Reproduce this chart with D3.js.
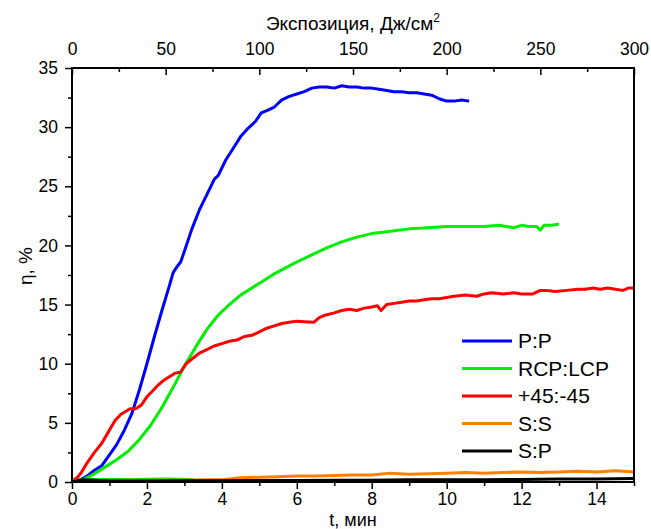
<!DOCTYPE html>
<html lang="ru">
<head>
    <meta charset="UTF-8">
    <title>Дифракционная эффективность</title>
    <script src="https://d3js.org/d3.v7.min.js"></script>
    <style>
        body { margin: 0; background: #fff; }
        text { font-family: "Liberation Sans", Arial, sans-serif; fill: #000; }
    </style>
</head>
<body>
<script>
    // Data: [t, min ; eta, %]
    const ppData = [
        [0, 0.1], [0.2, 0.15], [0.4, 0.5], [0.6, 1.0], [0.8, 1.4], [1.0, 2.3], [1.2, 3.2], [1.4, 4.4],
        [1.6, 5.8], [1.8, 7.8], [2.0, 10.0], [2.2, 12.3], [2.4, 14.5], [2.6, 16.6], [2.7, 17.7], [2.8, 18.2],
        [2.9, 18.6], [3.0, 19.5], [3.2, 21.4], [3.4, 23.0], [3.6, 24.3], [3.8, 25.6], [3.9, 25.9], [4.1, 27.2],
        [4.3, 28.2], [4.5, 29.2], [4.7, 29.9], [4.9, 30.5], [5.05, 31.2], [5.2, 31.4], [5.4, 31.7], [5.6, 32.3],
        [5.8, 32.6], [6.0, 32.8], [6.2, 33.0], [6.4, 33.3], [6.6, 33.4], [6.8, 33.4], [7.0, 33.3], [7.2, 33.5],
        [7.4, 33.4], [7.6, 33.4], [7.8, 33.3], [8.0, 33.3], [8.2, 33.2], [8.4, 33.1], [8.6, 33.0], [8.8, 33.0],
        [9.0, 32.9], [9.2, 32.9], [9.4, 32.8], [9.6, 32.7], [9.8, 32.4], [10.0, 32.2], [10.2, 32.2], [10.4, 32.3],
        [10.6, 32.2]
    ];
    const rcpData = [
        [0, 0.2], [0.3, 0.2], [0.6, 0.7], [0.9, 1.3], [1.2, 1.9], [1.5, 2.6], [1.8, 3.6], [2.1, 4.8],
        [2.4, 6.3], [2.7, 8.0], [3.0, 9.8], [3.3, 11.4], [3.6, 12.9], [3.9, 14.1], [4.2, 15.0], [4.5, 15.8],
        [4.8, 16.4], [5.1, 17.0], [5.4, 17.6], [5.7, 18.1], [6.0, 18.6], [6.4, 19.2], [6.8, 19.8], [7.2, 20.3],
        [7.6, 20.7], [8.0, 21.0], [8.5, 21.2], [9.0, 21.4], [9.5, 21.5], [10.0, 21.6], [10.5, 21.6], [11.0, 21.6],
        [11.4, 21.7], [11.6, 21.6], [11.8, 21.5], [12.0, 21.7], [12.2, 21.6], [12.4, 21.6], [12.5, 21.3], [12.6, 21.7],
        [12.8, 21.7], [13.0, 21.8]
    ];
    const diagData = [
        [0, 0.1], [0.12, 0.3], [0.25, 0.8], [0.4, 1.6], [0.6, 2.5], [0.8, 3.3], [1.0, 4.4], [1.15, 5.2],
        [1.3, 5.7], [1.45, 6.0], [1.55, 6.2], [1.7, 6.2], [1.85, 6.5], [2.0, 7.2], [2.15, 7.7], [2.3, 8.2],
        [2.45, 8.6], [2.6, 8.9], [2.75, 9.2], [2.9, 9.3], [3.05, 10.0], [3.2, 10.4], [3.4, 10.9], [3.6, 11.2],
        [3.8, 11.5], [4.0, 11.7], [4.2, 11.9], [4.4, 12.0], [4.6, 12.3], [4.8, 12.4], [5.0, 12.7], [5.2, 13.0],
        [5.4, 13.2], [5.6, 13.4], [5.8, 13.5], [6.0, 13.6], [6.2, 13.55], [6.45, 13.5], [6.6, 13.9], [6.75, 14.1],
        [7.0, 14.3], [7.2, 14.5], [7.4, 14.6], [7.6, 14.5], [7.8, 14.7], [8.0, 14.8], [8.15, 14.9], [8.25, 14.5],
        [8.4, 15.0], [8.6, 15.1], [8.8, 15.2], [9.0, 15.3], [9.2, 15.3], [9.4, 15.4], [9.6, 15.5], [9.8, 15.5],
        [10.0, 15.6], [10.2, 15.7], [10.5, 15.8], [10.8, 15.7], [11.0, 15.9], [11.2, 16.0], [11.5, 15.9], [11.8, 16.0],
        [12.0, 15.9], [12.3, 15.9], [12.5, 16.2], [12.65, 16.2], [12.9, 16.1], [13.2, 16.2], [13.5, 16.3], [13.7, 16.3],
        [13.9, 16.4], [14.1, 16.3], [14.3, 16.4], [14.5, 16.3], [14.7, 16.2], [14.85, 16.4], [15.0, 16.4]
    ];
    const ssData = [
        [0, 0.15], [0.5, 0.1], [1, 0.12], [1.5, 0.15], [2, 0.12], [2.5, 0.15], [3, 0.15], [3.5, 0.18],
        [4, 0.2], [4.5, 0.35], [5, 0.4], [5.5, 0.45], [6, 0.5], [6.5, 0.5], [7, 0.55], [7.5, 0.6],
        [8, 0.6], [8.5, 0.75], [9, 0.65], [9.5, 0.7], [10, 0.75], [10.5, 0.8], [11, 0.75], [11.5, 0.8],
        [12, 0.85], [12.5, 0.8], [13, 0.85], [13.5, 0.9], [14, 0.85], [14.5, 0.95], [15, 0.85]
    ];
    const spData = [
        [0, 0.05], [0.3, 0.2], [0.6, 0.15], [1, 0.08], [2, 0.08], [3, 0.1], [4, 0.1], [5, 0.12],
        [6, 0.12], [7, 0.15], [8, 0.15], [9, 0.18], [10, 0.2], [11, 0.2], [12, 0.22], [13, 0.25],
        [14, 0.25], [15, 0.3]
    ];
    // stray green baseline trace near zero
    const rcpBase = [
        [0.4, 0.25], [1.5, 0.25], [2.5, 0.3], [3.2, 0.25], [3.4, 0.05], [4.5, 0.05], [5.7, 0.02], [6.2, 0.02]
    ];

    const seriesNames = ['P:P', 'RCP:LCP', '+45:-45', 'S:S', 'S:P'];
    const seriesColors = ['#0000ff', '#00ee00', '#ff0000', '#ff8000', '#000000'];
    const seriesData = [ppData, rcpData, diagData, ssData, spData];

    const tTicks = [0, 2, 4, 6, 8, 10, 12, 14];
    const tMinor = [1, 3, 5, 7, 9, 11, 13, 15];
    const expTicks = [0, 50, 100, 150, 200, 250, 300];
    const expMinor = [25, 75, 125, 175, 225, 275];
    const etaTicks = [0, 5, 10, 15, 20, 25, 30, 35];
    const etaMinor = [2.5, 7.5, 12.5, 17.5, 22.5, 27.5, 32.5];

    const W = 651, H = 529;
    const m = { top: 68, right: 17, bottom: 47, left: 72 };
    const w = W - m.left - m.right;
    const h = H - m.top - m.bottom;

    const svg = d3.select('body').append('svg')
        .attr('width', W).attr('height', H);
    const g = svg.append('g')
        .attr('transform', 'translate(' + m.left + ',' + m.top + ')');

    const x = d3.scaleLinear().domain([0, 15]).range([0, w]);
    const xTop = d3.scaleLinear().domain([0, 300]).range([0, w]);
    const y = d3.scaleLinear().domain([0, 35]).range([h, 0]);

    const fs = '17.5px';

    // clip for curves
    svg.append('defs').append('clipPath').attr('id', 'clip')
        .append('rect').attr('x', 0).attr('y', -2).attr('width', w).attr('height', h + 4);

    // curves
    const line = d3.line().x(d => x(d[0])).y(d => y(d[1]));
    const curves = g.append('g').attr('clip-path', 'url(#clip)');
    curves.append('path').datum(rcpBase)
        .attr('d', line).attr('fill', 'none')
        .attr('stroke', '#00ee00').attr('stroke-width', 2);
    seriesData.forEach((s, i) => {
        curves.append('path').datum(s)
            .attr('d', line)
            .attr('fill', 'none')
            .attr('stroke', seriesColors[i])
            .attr('stroke-width', 3)
            .attr('stroke-linejoin', 'round');
    });

    // axes
    function styleAxis(sel) {
        sel.select('.domain').remove();
        sel.selectAll('line').attr('stroke', '#000').attr('stroke-width', 1.5);
        sel.selectAll('text').style('font-size', fs).style('font-family', '"Liberation Sans", Arial, sans-serif');
    }

    // bottom
    g.append('g').attr('transform', 'translate(0,' + h + ')')
        .call(d3.axisBottom(x).tickValues(tTicks).tickSize(7).tickPadding(4)).call(styleAxis);
    g.append('g').attr('transform', 'translate(0,' + h + ')')
        .call(d3.axisBottom(x).tickValues(tMinor).tickSize(4).tickFormat('')).call(styleAxis);
    // top (ticks inward)
    g.append('g')
        .call(d3.axisTop(xTop).tickValues(expTicks).tickSize(-7).tickPadding(13)).call(styleAxis);
    g.append('g')
        .call(d3.axisTop(xTop).tickValues(expMinor).tickSize(-4).tickFormat('')).call(styleAxis);
    // left
    g.append('g')
        .call(d3.axisLeft(y).tickValues(etaTicks).tickSize(7).tickPadding(7)).call(styleAxis);
    g.append('g')
        .call(d3.axisLeft(y).tickValues(etaMinor).tickSize(4).tickFormat('')).call(styleAxis);

    // frame
    g.append('rect')
        .attr('width', w).attr('height', h)
        .attr('fill', 'none').attr('stroke', '#000').attr('stroke-width', 2);

    // axis titles
    g.append('text')
        .attr('x', w / 2).attr('y', h + 44)
        .attr('text-anchor', 'middle').style('font-size', '18px')
        .text('t, мин');
    const topTitle = g.append('text')
        .attr('x', w / 2).attr('y', -38)
        .attr('text-anchor', 'middle').style('font-size', '19px');
    topTitle.append('tspan').text('Экспозиция, Дж/см');
    topTitle.append('tspan').attr('dy', -8).style('font-size', '12px').text('2');
    g.append('text')
        .attr('transform', 'translate(' + (-40) + ',' + (h / 2 - 9) + ') rotate(-90)')
        .attr('text-anchor', 'middle').style('font-size', '19px')
        .text('η, %');

    // legend
    const legend = g.append('g').attr('transform', 'translate(' + (462 - m.left) + ',' + (341 - m.top) + ')');
    seriesNames.forEach((name, i) => {
        const row = legend.append('g').attr('transform', 'translate(0,' + (i * 27.5) + ')');
        row.append('line')
            .attr('x1', 0).attr('x2', 50)
            .attr('stroke', seriesColors[i]).attr('stroke-width', 3);
        row.append('text')
            .attr('x', 56).attr('dy', '0.35em')
            .style('font-size', '21px')
            .text(name);
    });
</script>
</body>
</html>
